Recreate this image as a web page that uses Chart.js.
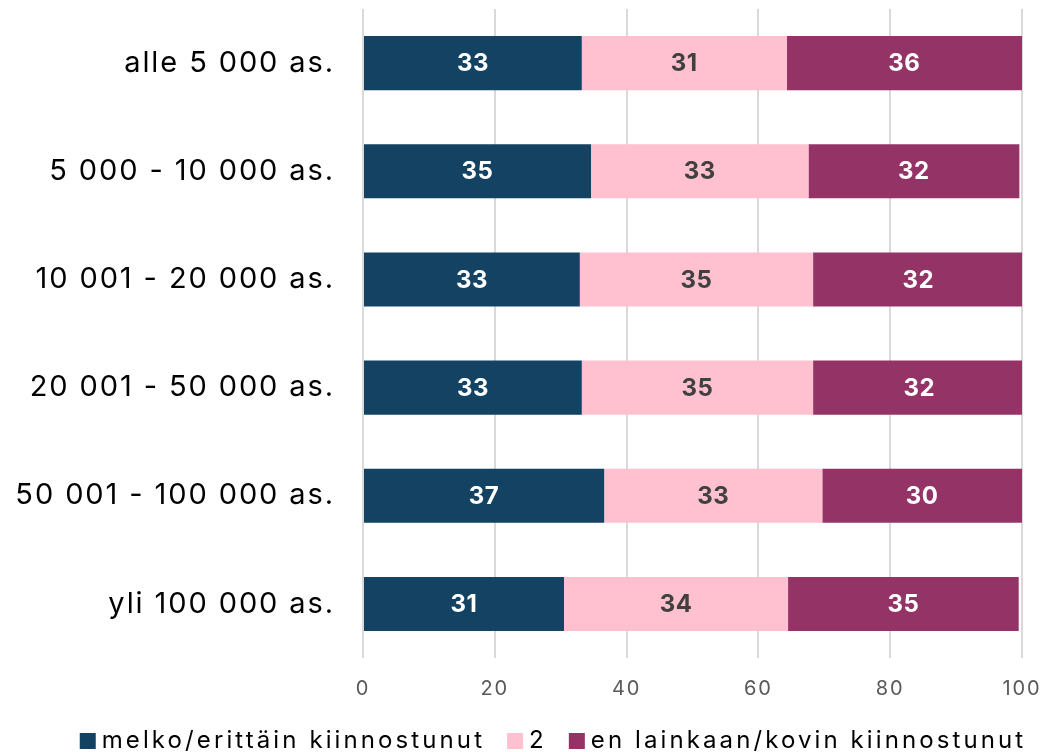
<!DOCTYPE html>
<html>
<head>
<meta charset="utf-8">
<script src="https://cdn.jsdelivr.net/npm/chart.js@4.4.0/dist/chart.umd.min.js"></script>
<style>
  html, body { margin: 0; padding: 0; background: #fff; }
  #wrap { width: 1045px; height: 752px; }
</style>
</head>
<body>
<div id="wrap"><canvas id="barChartCanva" width="1045" height="752"></canvas></div>
<script>
var ctx = document.getElementById('barChartCanva').getContext('2d');

// Data
var categories = ['alle 5 000 as.', '5 000 - 10 000 as.', '10 001 - 20 000 as.', '20 001 - 50 000 as.', '50 001 - 100 000 as.', 'yli 100 000 as.'];
var seriesNames = ['melko/erittäin kiinnostunut', '2', 'en lainkaan/kovin kiinnostunut'];
var interested = [33.2, 34.6, 32.9, 33.2, 36.6, 30.5];
var middle = [31.1, 33.0, 35.4, 35.1, 33.1, 34.0];
var notInterested = [35.7, 32.0, 31.9, 32.2, 30.3, 35.0];
var xTicks = [0, 20, 40, 60, 80, 100];

var colors = ['#134263', '#FFC0CF', '#933366'];
var labelColors = ['#ffffff', '#404040', '#ffffff'];

// wider tracking for axis texts (closer to the original font)
var tracking = {
    id: 'tracking',
    beforeDraw: function(chart) { chart.ctx.letterSpacing = '1.9px'; },
    afterDraw: function(chart) { chart.ctx.letterSpacing = '0px'; }
};

// Value labels inside the bars
var valueLabels = {
    id: 'valueLabels',
    afterDatasetsDraw: function(chart) {
        var c = chart.ctx;
        c.save();
        c.letterSpacing = '0.5px';
        c.font = 'bold 24px Inter';
        c.textAlign = 'center';
        c.textBaseline = 'middle';
        chart.data.datasets.forEach(function(ds, i) {
            var meta = chart.getDatasetMeta(i);
            meta.data.forEach(function(bar, j) {
                c.fillStyle = labelColors[i];
                c.fillText(Math.round(ds.data[j]), (bar.x + bar.base) / 2, bar.y + 1);
            });
        });
        c.restore();
    }
};

// Legend at the bottom
var bottomLegend = {
    id: 'bottomLegend',
    afterDraw: function(chart) {
        var c = chart.ctx;
        c.save();
        c.letterSpacing = '3.1px';
        c.font = '24px Inter';
        c.textBaseline = 'alphabetic';
        var items = chart.data.datasets.map(function(ds) {
            return { text: ds.label, color: ds.backgroundColor, w: c.measureText(ds.label).width };
        });
        var box = 16, gap = 6, itemGap = 22;
        var total = 0;
        items.forEach(function(it, i) { total += box + gap + it.w + (i ? itemGap : 0); });
        var x = 553 - total / 2;
        items.forEach(function(it) {
            c.fillStyle = it.color;
            c.fillRect(x, 733, box, box);
            c.fillStyle = '#000';
            c.fillText(it.text, x + box + gap, 748);
            x += box + gap + it.w + itemGap;
        });
        c.restore();
    }
};

var chartData = {
    labels: categories,
    datasets: [
        { label: seriesNames[0], data: interested, backgroundColor: colors[0] },
        { label: seriesNames[1], data: middle, backgroundColor: colors[1] },
        { label: seriesNames[2], data: notInterested, backgroundColor: colors[2] }
    ]
};

var chartOptions = {
    indexAxis: 'y',
    responsive: false,
    animation: false,
    barPercentage: 0.5,
    categoryPercentage: 1,
    layout: { padding: { top: 9, right: 23, left: 0, bottom: 32 } },
    plugins: {
        legend: { display: false },
        tooltip: { enabled: false }
    },
    scales: {
        x: {
            stacked: true,
            min: 0,
            max: 100,
            afterBuildTicks: function(axis) {
                axis.ticks = xTicks.map(function(v) { return { value: v }; });
            },
            afterFit: function(axis) { axis.paddingLeft = 0; axis.paddingRight = 0; },
            grid: { color: '#d9d9d9', lineWidth: 2, drawTicks: false },
            border: { display: false },
            ticks: { color: '#595959', font: { family: 'Inter', size: 20 }, padding: 19 }
        },
        y: {
            stacked: true,
            afterFit: function(axis) { axis.width = 363; axis.paddingTop = 0; axis.paddingBottom = 0; },
            grid: { display: false, drawTicks: false },
            border: { display: false },
            ticks: { color: '#000', font: { family: 'Inter', size: 29 }, padding: 28 }
        }
    }
};

var barChart = new Chart(ctx, {
    type: 'bar',
    data: chartData,
    options: chartOptions,
    plugins: [tracking, valueLabels, bottomLegend]
});
</script>
</body>
</html>
